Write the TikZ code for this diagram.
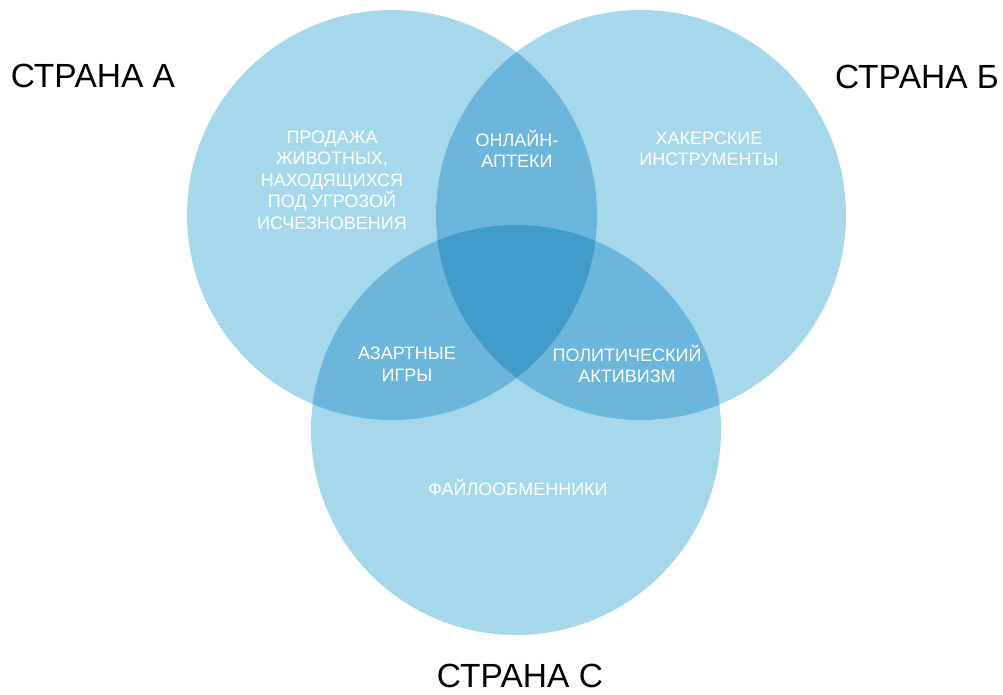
\documentclass[tikz,border=0pt]{standalone}
\usepackage{fontspec}
\setmainfont{Liberation Sans}
\definecolor{cone}{RGB}{166,216,236}
\definecolor{ctwo}{RGB}{108,181,219}
\definecolor{cthree}{RGB}{66,156,203}
\begin{document}
\begin{tikzpicture}[x=1pt,y=-1pt,
  inlabel/.style={text=white,align=center,font=\fontsize{18}{21.5}\selectfont,inner sep=0pt},
  country/.style={text=black,font=\fontsize{33.5}{38}\selectfont,inner sep=0pt}]
\useasboundingbox (0,0) rectangle (1003,695);
\def\circA{(392,215) circle[radius=205]}
\def\circB{(641,215) circle[radius=205]}
\def\circC{(516,430) circle[radius=205]}
\fill[cone] \circA;
\fill[cone] \circB;
\fill[cone] \circC;
\begin{scope}\clip \circA; \fill[ctwo] \circB; \fill[ctwo] \circC; \end{scope}
\begin{scope}\clip \circB; \fill[ctwo] \circC; \end{scope}
\begin{scope}\clip \circA; \clip \circB; \fill[cthree] \circC; \end{scope}
\node[inlabel] (t1) at (332,180) {ПРОДАЖА\\ЖИВОТНЫХ,\\НАХОДЯЩИХСЯ\\ПОД УГРОЗОЙ\\ИСЧЕЗНОВЕНИЯ};
\node[inlabel] (t2) at (517,149) {ОНЛАЙН-\\АПТЕКИ};
\node[inlabel] (t3) at (709,149) {ХАКЕРСКИЕ\\ИНСТРУМЕНТЫ};
\node[inlabel] (t4) at (407,364) {АЗАРТНЫЕ\\ИГРЫ};
\node[inlabel] (t5) at (627,364) {ПОЛИТИЧЕСКИЙ\\АКТИВИЗМ};
\node[inlabel] (t6) at (518,487) {ФАЙЛООБМЕННИКИ};
\node[country] (ca) at (93,76) {СТРАНА А};
\node[country] (cb) at (917,77) {СТРАНА Б};
\node[country] (cc) at (520,676) {СТРАНА С};
\end{tikzpicture}
\end{document}
